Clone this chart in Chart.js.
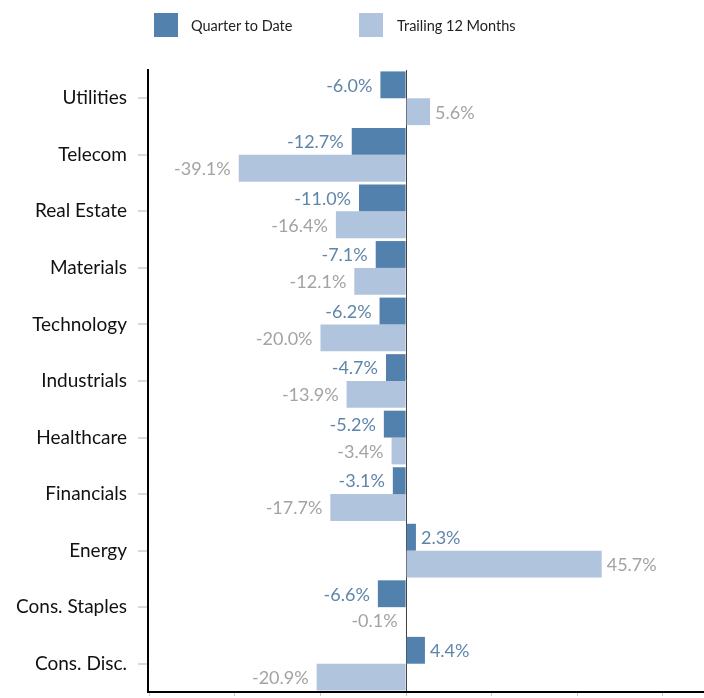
<!DOCTYPE html>
<html>
<head>
<meta charset="utf-8">
<script src="https://cdn.jsdelivr.net/npm/chart.js@4.4.1/dist/chart.umd.min.js"></script>
<style>
  html, body { margin: 0; padding: 0; background: #fff; }
  #wrap { position: relative; width: 704px; height: 698px; overflow: hidden; }
  .legend { position: absolute; top: 13px; font-family: Lato, "Open Sans", sans-serif; font-size: 14.5px; color: #222; }
  .legend span.box { position: absolute; top: 0; width: 24px; height: 24px; }
  .legend span.txt { position: absolute; top: 4px; white-space: nowrap; }
</style>
</head>
<body>
<div id="wrap">
  <canvas id="chart" width="704" height="698"></canvas>
  <div class="legend" style="left:154px"><span class="box" style="background:#5381ad"></span><span class="txt" style="left:37px">Quarter to Date</span></div>
  <div class="legend" style="left:359px"><span class="box" style="background:#b0c4de"></span><span class="txt" style="left:38px">Trailing 12 Months</span></div>
</div>
<script>
// sectors, top to bottom
const categories = ['Utilities', 'Telecom', 'Real Estate', 'Materials', 'Technology', 'Industrials',
  'Healthcare', 'Financials', 'Energy', 'Cons. Staples', 'Cons. Disc.'];
const quarterToDate = [-6.0, -12.7, -11.0, -7.1, -6.2, -4.7, -5.2, -3.1, 2.3, -6.6, 4.4];
const trailing12 = [5.6, -39.1, -16.4, -12.1, -20.0, -13.9, -3.4, -17.7, 45.7, -0.1, -20.9];
const xTicks = [-60, -40, -20, 0, 20, 40, 60];

const QTD_COLOR = '#5381ad';
const TTM_COLOR = '#b0c4de';

// draws the value next to the end of every bar
const barLabels = {
  id: 'barLabels',
  afterDatasetsDraw(chart) {
    const ctx = chart.ctx;
    ctx.save();
    ctx.font = '18px Lato, "Open Sans", sans-serif';
    ctx.textBaseline = 'middle';
    chart.data.datasets.forEach((ds, i) => {
      const meta = chart.getDatasetMeta(i);
      ctx.fillStyle = i === 0 ? '#5f86aa' : '#a3a3a3';
      meta.data.forEach((bar, j) => {
        const v = ds.data[j];
        const txt = v.toFixed(1) + '%';
        if (v >= 0) {
          ctx.textAlign = 'left';
          ctx.fillText(txt, bar.x + 5, bar.y + 1);
        } else {
          ctx.textAlign = 'right';
          ctx.fillText(txt, bar.x - 8, bar.y + 1);
        }
      });
    });
    ctx.restore();
  }
};

new Chart(document.getElementById('chart'), {
  type: 'bar',
  data: {
    labels: categories,
    datasets: [
      { label: 'Quarter to Date', data: quarterToDate, backgroundColor: QTD_COLOR },
      { label: 'Trailing 12 Months', data: trailing12, backgroundColor: TTM_COLOR }
    ]
  },
  options: {
    indexAxis: 'y',
    responsive: false,
    animation: false,
    devicePixelRatio: 1,
    layout: { padding: { top: 70, left: 0, right: 0, bottom: 0 } },
    datasets: { bar: { categoryPercentage: 0.95, barPercentage: 1.0 } },
    plugins: { legend: { display: false }, tooltip: { enabled: false } },
    scales: {
      x: {
        min: -60.3, max: 69.6,
        afterBuildTicks: s => { s.ticks = xTicks.map(v => ({ value: v })); },
        afterFit: s => { s.height = 6; s.paddingLeft = 0; s.paddingRight = 0; },
        border: { display: true, color: '#000', width: 2 },
        grid: {
          color: c => (c.tick && c.tick.value === 0) ? '#444' : 'rgba(0,0,0,0)',
          lineWidth: 1,
          tickColor: '#c8c8c8',
          tickLength: 4,
          drawTicks: true
        },
        ticks: { display: false }
      },
      y: {
        afterFit: s => { s.width = 148; s.paddingTop = 0; s.paddingBottom = 0; },
        border: { display: true, color: '#000', width: 2 },
        grid: { offset: false, drawOnChartArea: false, tickColor: '#d9d9d9', tickLength: 10, lineWidth: 2 },
        ticks: {
          color: '#111',
          padding: 11,
          font: { family: 'Lato, "Open Sans", sans-serif', size: 19 }
        }
      }
    }
  },
  plugins: [barLabels]
});
</script>
</body>
</html>
